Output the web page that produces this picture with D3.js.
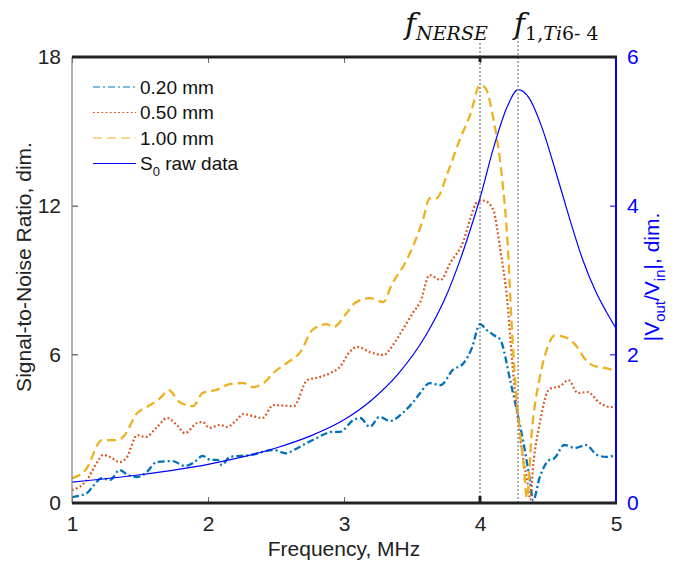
<!DOCTYPE html>
<html>
<head>
<meta charset="utf-8">
<script src="https://cdn.jsdelivr.net/npm/d3@7"></script>
<style>
  body { margin: 0; background: #fff; }
  text { font-family: "Liberation Sans", Arial, sans-serif; }
</style>
</head>
<body>
<div id="chart"></div>
<script>
// frequency (MHz) / SNR pairs
const freq020 = [1.00,1.11,1.15,1.22,1.28,1.35,1.41,1.48,1.55,1.62,1.74,1.83,1.90,1.96,2.02,2.07,2.10,2.16,2.24,2.32,2.40,2.48,2.58,2.63,2.77,2.92,2.97,3.07,3.12,3.19,3.26,3.34,3.43,3.51,3.56,3.63,3.71,3.80,3.88,3.94,4.00,4.05,4.10,4.15,4.22,4.27,4.32,4.37,4.39,4.44,4.50,4.55,4.62,4.70,4.78,4.86,4.93,5.00];
const snr020  = [0.24,0.40,0.65,1.00,0.93,1.33,1.13,1.05,1.25,1.65,1.69,1.49,1.65,1.90,1.74,1.74,1.53,1.86,1.90,1.94,2.06,2.14,2.00,2.14,2.54,2.87,2.87,3.35,3.43,3.07,3.47,3.31,3.63,4.08,4.44,4.84,4.76,5.37,5.65,6.25,7.22,6.98,6.78,6.58,5.00,3.75,2.42,0.80,0.10,1.05,1.70,1.82,2.34,2.22,2.34,1.94,1.86,1.94];

const freq050 = [1.00,1.11,1.18,1.23,1.28,1.35,1.40,1.48,1.54,1.62,1.70,1.77,1.83,1.92,1.96,2.01,2.09,2.14,2.21,2.26,2.33,2.40,2.48,2.63,2.73,2.82,2.90,2.97,3.04,3.10,3.19,3.29,3.36,3.43,3.51,3.56,3.63,3.71,3.78,3.88,3.93,3.98,4.03,4.10,4.125,4.15,4.20,4.24,4.29,4.35,4.37,4.39,4.44,4.51,4.59,4.65,4.72,4.79,4.88,4.96,5.00];
const snr050  = [0.52,0.93,1.60,1.94,1.86,1.65,1.82,2.74,2.66,3.03,3.43,3.15,2.82,3.23,3.27,3.03,3.15,3.07,3.35,3.59,3.51,3.43,3.95,3.91,4.96,5.08,5.25,5.49,6.09,6.30,6.09,5.97,6.38,6.98,7.70,8.11,9.20,9.00,9.68,10.60,11.50,12.15,12.20,11.80,11.10,10.20,8.20,5.50,2.82,0.80,0.15,1.45,3.23,4.60,4.72,4.96,4.44,4.48,4.04,3.87,3.95];

const freq100 = [1.00,1.10,1.22,1.33,1.375,1.48,1.55,1.65,1.71,1.79,1.89,1.96,2.06,2.16,2.26,2.33,2.41,2.48,2.58,2.68,2.77,2.875,2.92,3.02,3.08,3.19,3.29,3.35,3.46,3.58,3.63,3.68,3.76,3.85,3.93,4.00,4.04,4.10,4.15,4.21,4.23,4.27,4.32,4.345,4.38,4.44,4.49,4.55,4.64,4.73,4.76,4.83,4.92,5.00];
const snr100  = [1.00,1.33,2.54,2.54,2.66,3.63,3.87,4.24,4.56,4.08,3.91,4.44,4.56,4.80,4.84,4.68,4.84,5.25,5.65,6.10,7.00,7.22,7.10,7.67,8.07,8.27,8.11,8.80,9.80,11.42,12.30,12.30,13.30,14.65,15.70,16.87,16.75,15.45,13.70,9.80,7.50,4.16,1.60,0.20,2.82,5.08,6.17,6.76,6.66,6.17,5.90,5.55,5.45,5.33];

// S0 raw data, |Vout/Vin| (right axis)
const freqRaw = [1.0,1.5,2.0,2.5,2.75,3.0,3.2,3.4,3.6,3.75,3.85,3.95,4.0,4.1,4.2,4.28,4.36,4.45,4.55,4.65,4.75,4.85,4.93,5.0];
const vRaw    = [0.28,0.38,0.52,0.74,0.90,1.12,1.38,1.74,2.25,2.78,3.25,3.80,4.10,4.78,5.33,5.56,5.45,5.08,4.50,3.88,3.30,2.85,2.57,2.35];

const xTicks = [1, 2, 3, 4, 5];
const yLeftTicks = [0, 6, 12, 18];
const yRightTicks = [0, 2, 4, 6];
const fNerse = 4.0;
const fTi = 4.28;

const width = 685, height = 569;
const margin = {top: 57, right: 69, bottom: 66, left: 72};
const plotW = width - margin.left - margin.right;
const plotH = height - margin.top - margin.bottom;

const svg = d3.select('#chart').append('svg')
    .attr('width', width)
    .attr('height', height)
    .style('background', '#fff');

const g = svg.append('g')
    .attr('transform', `translate(${margin.left},${margin.top})`);

const x = d3.scaleLinear().domain([1, 5]).range([0, plotW]);
const yL = d3.scaleLinear().domain([0, 18]).range([plotH, 0]);
const yR = d3.scaleLinear().domain([0, 6]).range([plotH, 0]);

const series = [
    {name: '0.20 mm', f: freq020, v: snr020, color: '#0072BD', dash: '7,3,2,3', w: 2.3},
    {name: '0.50 mm', f: freq050, v: snr050, color: '#D95319', dash: '1.8,2.4', w: 2.2},
    {name: '1.00 mm', f: freq100, v: snr100, color: '#EDB120', dash: '9,5', w: 2.3}
];

g.append('clipPath').attr('id', 'clip')
    .append('rect').attr('width', plotW).attr('height', plotH);

const lineL = d3.line()
    .x(d => x(d[0])).y(d => yL(d[1]))
    .curve(d3.curveMonotoneX);
const lineR = d3.line()
    .x(d => x(d[0])).y(d => yR(d[1]))
    .curve(d3.curveMonotoneX);

const plot = g.append('g').attr('clip-path', 'url(#clip)');

series.forEach(s => {
    plot.append('path')
        .datum(d3.zip(s.f, s.v))
        .attr('d', lineL)
        .attr('fill', 'none')
        .attr('stroke', s.color)
        .attr('stroke-width', s.w)
        .attr('stroke-dasharray', s.dash);
});

plot.append('path')
    .datum(d3.zip(freqRaw, vRaw))
    .attr('d', lineR)
    .attr('fill', 'none')
    .attr('stroke', '#0000FF')
    .attr('stroke-width', 1.2);

// vertical markers
g.append('line')
    .attr('x1', x(fNerse)).attr('x2', x(fNerse))
    .attr('y1', -14).attr('y2', plotH)
    .attr('stroke', '#555').attr('stroke-width', 1)
    .attr('stroke-dasharray', '2,2');
g.append('line')
    .attr('x1', x(fTi)).attr('x2', x(fTi))
    .attr('y1', -20).attr('y2', plotH)
    .attr('stroke', '#999').attr('stroke-width', 1.6)
    .attr('stroke-dasharray', '2,2');

// axes
const xAxisB = g.append('g')
    .attr('transform', `translate(0,${plotH})`)
    .call(d3.axisBottom(x).tickValues(xTicks).tickSize(-6).tickPadding(13).tickFormat(d3.format('d')));
const xAxisT = g.append('g')
    .call(d3.axisTop(x).tickValues(xTicks).tickSize(-6).tickFormat(''));
const yAxisL = g.append('g')
    .call(d3.axisLeft(yL).tickValues(yLeftTicks).tickSize(-6).tickPadding(11).tickFormat(d3.format('d')));
const yAxisR = g.append('g')
    .attr('transform', `translate(${plotW},0)`)
    .call(d3.axisRight(yR).tickValues(yRightTicks).tickSize(-6).tickPadding(11).tickFormat(d3.format('d')));

[xAxisB, xAxisT, yAxisL, yAxisR].forEach(a => {
    a.select('.domain').remove();
    a.selectAll('text').style('font-size', '21px').attr('font-family', null);
});
xAxisB.selectAll('line').attr('stroke', '#666');
xAxisT.selectAll('line').attr('stroke', '#666');
yAxisL.selectAll('line').attr('stroke', '#333');
yAxisL.selectAll('text').attr('fill', '#222');
xAxisB.selectAll('text').attr('fill', '#222');
yAxisR.selectAll('line').attr('stroke', '#0000FF');
yAxisR.selectAll('text').attr('fill', '#0000FF');

// frame
g.append('line').attr('x1', 0).attr('x2', 0).attr('y1', 0).attr('y2', plotH)
    .attr('stroke', '#808080').attr('stroke-width', 1.2);
g.append('line').attr('x1', plotW).attr('x2', plotW).attr('y1', 0).attr('y2', plotH)
    .attr('stroke', '#0000FF').attr('stroke-width', 2);
g.append('line').attr('x1', 0).attr('x2', plotW + 1).attr('y1', 0).attr('y2', 0)
    .attr('stroke', '#222').attr('stroke-width', 3);
g.append('line').attr('x1', 0).attr('x2', plotW + 1).attr('y1', plotH).attr('y2', plotH)
    .attr('stroke', '#222').attr('stroke-width', 3);
// little black ticks where the NERSE marker meets the frame
[[-1, 6], [plotH - 7, 6]].forEach(t => {
    g.append('rect').attr('x', x(fNerse) - 1.5).attr('y', t[0]).attr('width', 3).attr('height', t[1]).attr('fill', '#222');
});

// axis titles
svg.append('text')
    .attr('x', margin.left + plotW / 2).attr('y', 556)
    .attr('text-anchor', 'middle').style('font-size', '21px').attr('fill', '#222')
    .text('Frequency, MHz');
svg.append('text')
    .attr('transform', `translate(31,${margin.top + plotH / 2 - 13}) rotate(-90)`)
    .attr('text-anchor', 'middle').style('font-size', '21px').attr('fill', '#222')
    .text('Signal-to-Noise Ratio, dim.');
const rt = svg.append('text')
    .attr('transform', `translate(659,${margin.top + plotH / 2 - 3}) rotate(-90)`)
    .attr('text-anchor', 'middle').style('font-size', '21px').attr('fill', '#0000FF');
rt.append('tspan').text('|V');
rt.append('tspan').attr('dy', 6).style('font-size', '15px').text('out');
rt.append('tspan').attr('dy', -6).text('/V');
rt.append('tspan').attr('dy', 6).style('font-size', '15px').text('in');
rt.append('tspan').attr('dy', -6).text('|, dim.');

// frequency markers
const serif = '"DejaVu Serif", "Liberation Serif", serif';
const fl1 = svg.append('text')
    .attr('x', 405).attr('y', 34)
    .style('font-family', serif).style('font-style', 'italic').attr('fill', '#111');
fl1.append('tspan').style('font-size', '30px').text('f');
fl1.append('tspan').attr('dy', 6).style('font-size', '19px').text('NERSE');
const fl2 = svg.append('text')
    .attr('x', 514).attr('y', 34)
    .style('font-family', serif).style('font-style', 'italic').attr('fill', '#111');
fl2.append('tspan').style('font-size', '30px').text('f');
fl2.append('tspan').attr('dy', 6).style('font-size', '19px').style('font-style', 'normal').text('1,');
fl2.append('tspan').style('font-size', '19px').text('Ti');
fl2.append('tspan').style('font-size', '19px').style('font-style', 'normal').text('6- 4');

// legend
const legendItems = series.map(s => ({label: s.name, color: s.color, dash: s.dash}))
    .concat([{label: 'S0', color: '#0000FF', dash: null}]);
const legend = svg.append('g').attr('transform', 'translate(93,87)');
legendItems.forEach((d, i) => {
    const row = legend.append('g').attr('transform', `translate(0,${i * 25.5})`);
    row.append('line')
        .attr('x1', 0).attr('x2', 43).attr('y1', 0).attr('y2', 0)
        .attr('stroke', d.color).attr('stroke-width', 1.2)
        .attr('stroke-dasharray', d.dash);
    const t = row.append('text').attr('x', 47).attr('y', 6.5)
        .style('font-size', '19px').attr('fill', '#111');
    if (d.label === 'S0') {
        t.append('tspan').text('S');
        t.append('tspan').attr('dy', 6).style('font-size', '13px').text('0');
        t.append('tspan').attr('dy', -6).text(' raw data');
    } else {
        t.text(d.label);
    }
});
</script>
</body>
</html>
